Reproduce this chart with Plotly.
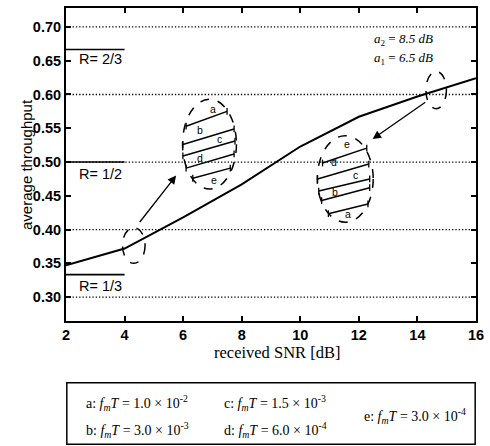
import plotly.graph_objects as go

# Average throughput versus received SNR
snr_db = [2, 4, 6, 8, 10, 12, 14, 16]
throughput = [0.347, 0.372, 0.418, 0.467, 0.523, 0.567, 0.597, 0.624]

# Code rate reference levels
code_rates = [2 / 3, 1 / 2, 1 / 3]
rate_labels = ["R= 2/3", "R= 1/2", "R= 1/3"]

x_ticks = [2, 4, 6, 8, 10, 12, 14, 16]
y_ticks = [0.30, 0.35, 0.40, 0.45, 0.50, 0.55, 0.60, 0.65, 0.70]
grid_levels = [0.30, 0.40, 0.50, 0.60, 0.70]

# Doppler cases shown in the zoomed insets
case_letters = ["a", "b", "c", "d", "e"]
fmT_mantissa = ["1.0", "3.0", "1.5", "6.0", "3.0"]
fmT_exponent = ["-2", "-3", "-3", "-4", "-4"]

SERIF = "Liberation Serif, Times New Roman, serif"
SANS = "Liberation Sans, Arial, sans-serif"

fig = go.Figure()
fig.add_trace(go.Scatter(x=snr_db, y=throughput, mode="lines",
                         line=dict(color="black", width=2), hoverinfo="skip"))

shapes = []
annotations = []

# dotted grid
for g in grid_levels:
    shapes.append(dict(type="line", xref="paper", yref="y", x0=0, x1=1, y0=g, y1=g,
                       line=dict(color="black", width=1.3, dash="1.3px,2px"), layer="below"))

# rate reference segments and labels
label_y = [0.653, 0.482, 0.316]
for r, txt, ly in zip(code_rates, rate_labels, label_y):
    shapes.append(dict(type="line", xref="x", yref="y", x0=2, x1=4, y0=r, y1=r,
                       line=dict(color="black", width=1.6)))
    annotations.append(dict(x=3.18, y=ly, xref="x", yref="y", text=txt, showarrow=False,
                            font=dict(family=SANS, size=14.5, color="black")))

dash_line = dict(color="black", width=1.5, dash="dash")
# small ellipses on the curve
shapes.append(dict(type="circle", xref="x", yref="y", x0=3.93, x1=4.70, y0=0.350, y1=0.403, line=dash_line))
shapes.append(dict(type="circle", xref="x", yref="y", x0=14.29, x1=14.99, y0=0.579, y1=0.634, line=dash_line))
# enlarged insets
shapes.append(dict(type="circle", xref="x", yref="y", x0=5.98, x1=7.82, y0=0.460, y1=0.593, line=dash_line))
shapes.append(dict(type="circle", xref="x", yref="y", x0=10.58, x1=12.49, y0=0.411, y1=0.539, line=dash_line))

left_segments = [((6.10, 0.553), (7.50, 0.575)),
                 ((5.99, 0.526), (7.74, 0.549)),
                 ((5.99, 0.509), (7.77, 0.531)),
                 ((6.10, 0.491), (7.74, 0.512)),
                 ((6.33, 0.476), (7.61, 0.491))]
left_letters = [(7.03, 0.579), (6.56, 0.547), (7.24, 0.534), (6.56, 0.506), (7.07, 0.473)]

right_segments = [((10.76, 0.4985), (12.27, 0.5206)),
                  ((10.59, 0.475), (12.34, 0.497)),
                  ((10.63, 0.457), (12.37, 0.475)),
                  ((10.73, 0.443), (12.37, 0.462)),
                  ((10.96, 0.4235), (12.31, 0.438))]
right_letters = [(11.60, 0.527), (11.16, 0.500), (11.90, 0.481), (11.20, 0.455), (11.63, 0.423)]

cap = 0.005
for segs in (left_segments, right_segments):
    for (xa, ya), (xb, yb) in segs:
        shapes.append(dict(type="line", xref="x", yref="y", x0=xa, y0=ya, x1=xb, y1=yb,
                           line=dict(color="black", width=1.5)))
        for (xc, yc) in ((xa, ya), (xb, yb)):
            shapes.append(dict(type="line", xref="x", yref="y", x0=xc, x1=xc,
                               y0=yc - cap, y1=yc + cap, line=dict(color="black", width=1.3)))

for letters, pos in ((case_letters, left_letters), (case_letters[::-1], right_letters)):
    for ch, (lx, ly) in zip(letters, pos):
        annotations.append(dict(x=lx, y=ly, xref="x", yref="y", text=ch, showarrow=False,
                                font=dict(family=SANS, size=10.5, color="black")))

# arrows from the curve to the insets
annotations.append(dict(x=5.76, y=0.480, ax=4.48, ay=0.409, xref="x", yref="y", axref="x", ayref="y",
                        text="", showarrow=True, arrowhead=2, arrowsize=1.3, arrowwidth=1.3,
                        arrowcolor="black"))
annotations.append(dict(x=12.47, y=0.534, ax=14.32, ay=0.590, xref="x", yref="y", axref="x", ayref="y",
                        text="", showarrow=True, arrowhead=2, arrowsize=1.3, arrowwidth=1.3,
                        arrowcolor="black"))

# threshold settings
annotations.append(dict(x=13.52, y=0.681, xref="x", yref="y", showarrow=False,
                        text="<i>a</i><sub>2</sub> = <i>8.5 dB</i>",
                        font=dict(family=SERIF, size=13, color="black")))
annotations.append(dict(x=13.52, y=0.653, xref="x", yref="y", showarrow=False,
                        text="<i>a</i><sub>1</sub> = <i>6.5 dB</i>",
                        font=dict(family=SERIF, size=13, color="black")))

# axis titles
annotations.append(dict(x=0.515, y=-0.102, xref="paper", yref="paper", showarrow=False,
                        text="received SNR [dB]", yanchor="middle",
                        font=dict(family=SERIF, size=16.5, color="black")))
annotations.append(dict(x=-0.122, y=0.50, xref="paper", yref="paper", showarrow=False,
                        text="average throughput", textangle=-90,
                        font=dict(family=SANS, size=15, color="black")))

# key box for the Doppler cases
shapes.append(dict(type="rect", xref="paper", yref="paper", x0=0.002, x1=0.998, y0=-0.394, y1=-0.197,
                   line=dict(color="black", width=1.5)))
key_pos = [(0.044, -0.262), (0.044, -0.347), (0.380, -0.262), (0.380, -0.347), (0.722, -0.305)]
for ch, m, e, (kx, ky) in zip(case_letters, fmT_mantissa, fmT_exponent, key_pos):
    annotations.append(dict(x=kx, y=ky, xref="paper", yref="paper", showarrow=False,
                            xanchor="left", yanchor="middle",
                            text=f"{ch}: <i>f</i><sub><i>m</i></sub><i>T</i> = {m} × 10<sup>{e}</sup>",
                            font=dict(family=SERIF, size=14, color="black")))

tick_font = dict(family=SANS, size=14.5, color="black")
fig.update_layout(
    width=490, height=446,
    margin=dict(l=66, r=7, t=6, b=125),
    paper_bgcolor="white", plot_bgcolor="white",
    showlegend=False,
    shapes=shapes, annotations=annotations,
    xaxis=dict(range=[2, 16], tickvals=x_ticks, ticktext=[f"<b>{v}</b>" for v in x_ticks],
               ticks="inside", ticklen=5, tickwidth=1.5, tickcolor="black",
               showline=True, linecolor="black", linewidth=2, mirror="ticks",
               showgrid=False, zeroline=False, tickfont=tick_font,
               ticklabeloverflow="allow"),
    yaxis=dict(range=[0.2647, 0.728], tickvals=y_ticks, ticktext=[f"<b>{v:.2f}</b>" for v in y_ticks],
               ticks="inside", ticklen=5, tickwidth=1.5, tickcolor="black",
               showline=True, linecolor="black", linewidth=2, mirror="ticks",
               showgrid=False, zeroline=False, tickfont=tick_font,
               ticklabeloverflow="allow"),
)

fig.write_html("out.html")
